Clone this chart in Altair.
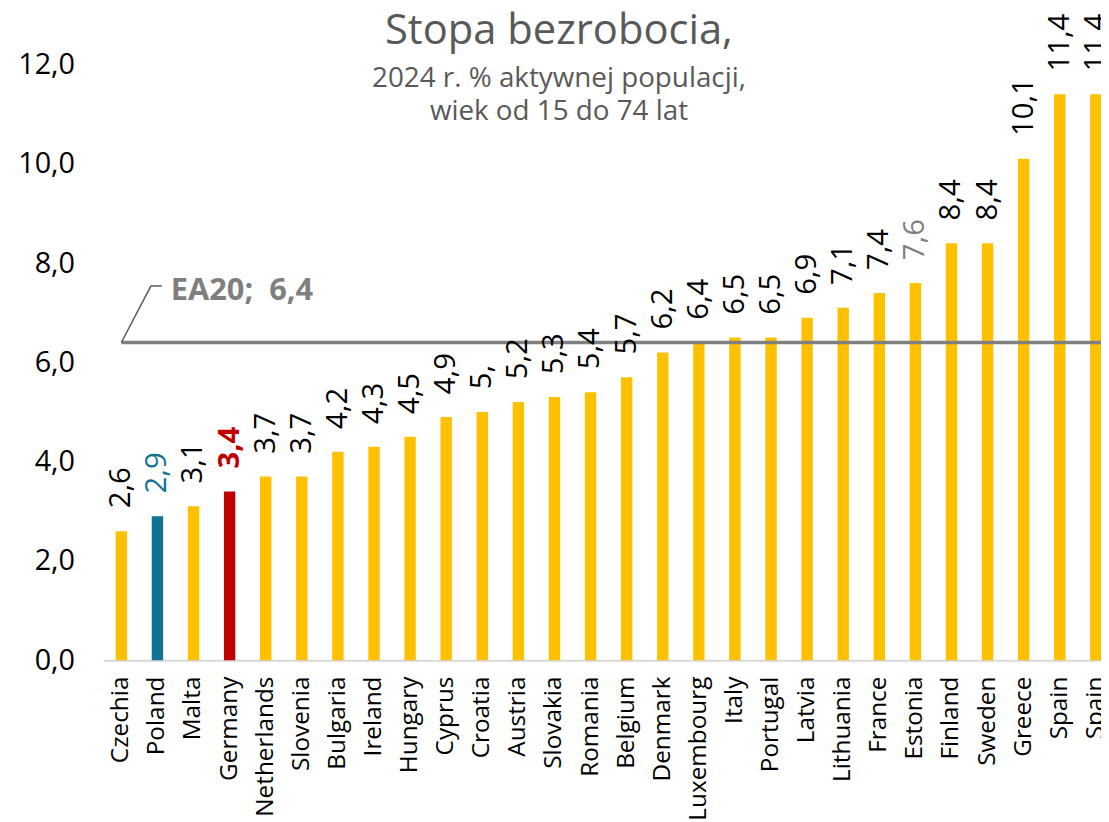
import json
import altair as alt
import pandas as pd

countries = ["Czechia", "Poland", "Malta", "Germany", "Netherlands", "Slovenia", "Bulgaria",
             "Ireland", "Hungary", "Cyprus", "Croatia", "Austria", "Slovakia", "Romania",
             "Belgium", "Denmark", "Luxembourg", "Italy", "Portugal", "Latvia", "Lithuania",
             "France", "Estonia", "Finland", "Sweden", "Greece", "Spain", "Spain"]
values = [2.6, 2.9, 3.1, 3.4, 3.7, 3.7, 4.2, 4.3, 4.5, 4.9, 5.0, 5.2, 5.3, 5.4, 5.7, 6.2,
          6.4, 6.5, 6.5, 6.9, 7.1, 7.4, 7.6, 8.4, 8.4, 10.1, 11.4, 11.4]
ea20 = 6.4
y_ticks = [0, 2, 4, 6, 8, 10, 12]
title = "Stopa bezrobocia,"
subtitle = ["2024 r. % aktywnej populacji,", "wiek od 15 do 74 lat"]


def fmt(v):
    s = f"{v:.1f}".replace(".", ",")
    return s[:-1] if s.endswith(",0") else s


def bar_group(c):
    return {"Poland": "pl", "Germany": "de"}.get(c, "other")


def label_group(c):
    return {"Poland": "pl", "Germany": "de", "Estonia": "ee"}.get(c, "other")


df = pd.DataFrame({
    "i": list(range(len(countries))),
    "country": countries,
    "value": values,
    "label": [fmt(v) for v in values],
    "bg": [bar_group(c) for c in countries],
    "lg": [label_group(c) for c in countries],
})

FONT = "Open Sans"
PLOT_W = 1005
RANGE_W = 1018
PLOT_H = 652

x_enc = alt.X(
    "i:O",
    scale=alt.Scale(range=[0, RANGE_W], paddingInner=0.684, paddingOuter=0.342),
    axis=alt.Axis(
        title=None,
        labelExpr=f"{json.dumps(countries)}[datum.value]",
        labelAngle=270,
        labelAlign="right",
        labelBaseline="middle",
        labelPadding=16,
        labelFontSize=24.5,
        labelFont=FONT,
        labelColor="#000000",
        labelOverlap=False,
        labelBound=False,
        ticks=False,
        domainColor="#d9d9d9",
        domainWidth=2,
        grid=False,
    ),
)

y_enc = alt.Y(
    "value:Q",
    scale=alt.Scale(domain=[0, 13.04], nice=False, zero=True),
    axis=alt.Axis(
        title=None,
        values=y_ticks,
        labelExpr="replace(format(datum.value, '.1f'), '.', ',')",
        labelFontSize=29,
        labelFont=FONT,
        labelColor="#000000",
        labelPadding=29,
        ticks=False,
        domain=False,
        grid=False,
    ),
)

base = alt.Chart(df)

bars = base.mark_bar().encode(
    x=x_enc,
    y=y_enc,
    color=alt.Color("bg:N", scale=alt.Scale(domain=["other", "pl", "de"],
                                            range=["#ffc000", "#0f7391", "#c00000"]),
                    legend=None),
)

line = alt.Chart(pd.DataFrame({"v": [ea20]})).mark_rule(color="#808080", strokeWidth=3.5).encode(
    x=alt.XDatum(0, type="ordinal", bandPosition=0.5),
    x2=alt.value(PLOT_W + 10),
    y=alt.Y("v:Q"),
)

leader = alt.Chart(pd.DataFrame({"v": [ea20]})).mark_rule(color="#595959", strokeWidth=1.5).encode(
    x=alt.XDatum(0, type="ordinal", bandPosition=0.5),
    y=alt.Y("v:Q"),
    x2=alt.value(48),
    y2=alt.value(275),
)
leader2 = alt.Chart(pd.DataFrame({"v": [ea20]})).mark_rule(color="#595959", strokeWidth=1.5).encode(
    x=alt.value(48), x2=alt.value(59), y=alt.value(275),
)
ea_text = alt.Chart(pd.DataFrame({"t": ["EA20;\u00a0\u00a0" + fmt(ea20)]})).mark_text(
    font=FONT, fontSize=31, fontWeight="bold", color="#7f7f7f", align="left", baseline="alphabetic"
).encode(x=alt.value(68), y=alt.value(289), text="t:N")

labels_normal = base.transform_filter("datum.country != 'Germany'").mark_text(
    font=FONT, fontSize=29.5, angle=270, align="left", baseline="middle", dx=23
).encode(
    x=x_enc, y=y_enc, text="label:N",
    color=alt.Color("lg:N", scale=alt.Scale(domain=["other", "pl", "de", "ee"],
                                            range=["#000000", "#0f7391", "#c00000", "#7f7f7f"]),
                    legend=None),
)
labels_de = base.transform_filter("datum.country == 'Germany'").mark_text(
    font=FONT, fontSize=29.5, fontWeight="bold", angle=270, align="left", baseline="middle", dx=23,
    color="#c00000"
).encode(x=x_enc, y=y_enc, text="label:N")

title_df = pd.DataFrame({"t": [title]})
title_mark = alt.Chart(title_df).mark_text(
    font=FONT, fontSize=42, color="#595959", align="center", baseline="alphabetic"
).encode(x=alt.value(459), y=alt.value(31), text="t:N")

sub_marks = [
    alt.Chart(pd.DataFrame({"t": [s]})).mark_text(
        font=FONT, fontSize=28, color="#595959", align="center", baseline="alphabetic"
    ).encode(x=alt.value(459), y=alt.value(75 + 33 * k), text="t:N")
    for k, s in enumerate(subtitle)
]

chart = alt.layer(
    bars, line, leader, leader2, ea_text, labels_normal, labels_de, title_mark, *sub_marks
).resolve_scale(color="independent").properties(
    width=PLOT_W,
    height=PLOT_H,
    autosize=alt.AutoSizeParams(type="none"),
    padding={"left": 96, "top": 2, "right": 0, "bottom": 158},
).configure_view(stroke=None)

chart.save("out.html", embed_options={"renderer": "svg", "actions": False})
